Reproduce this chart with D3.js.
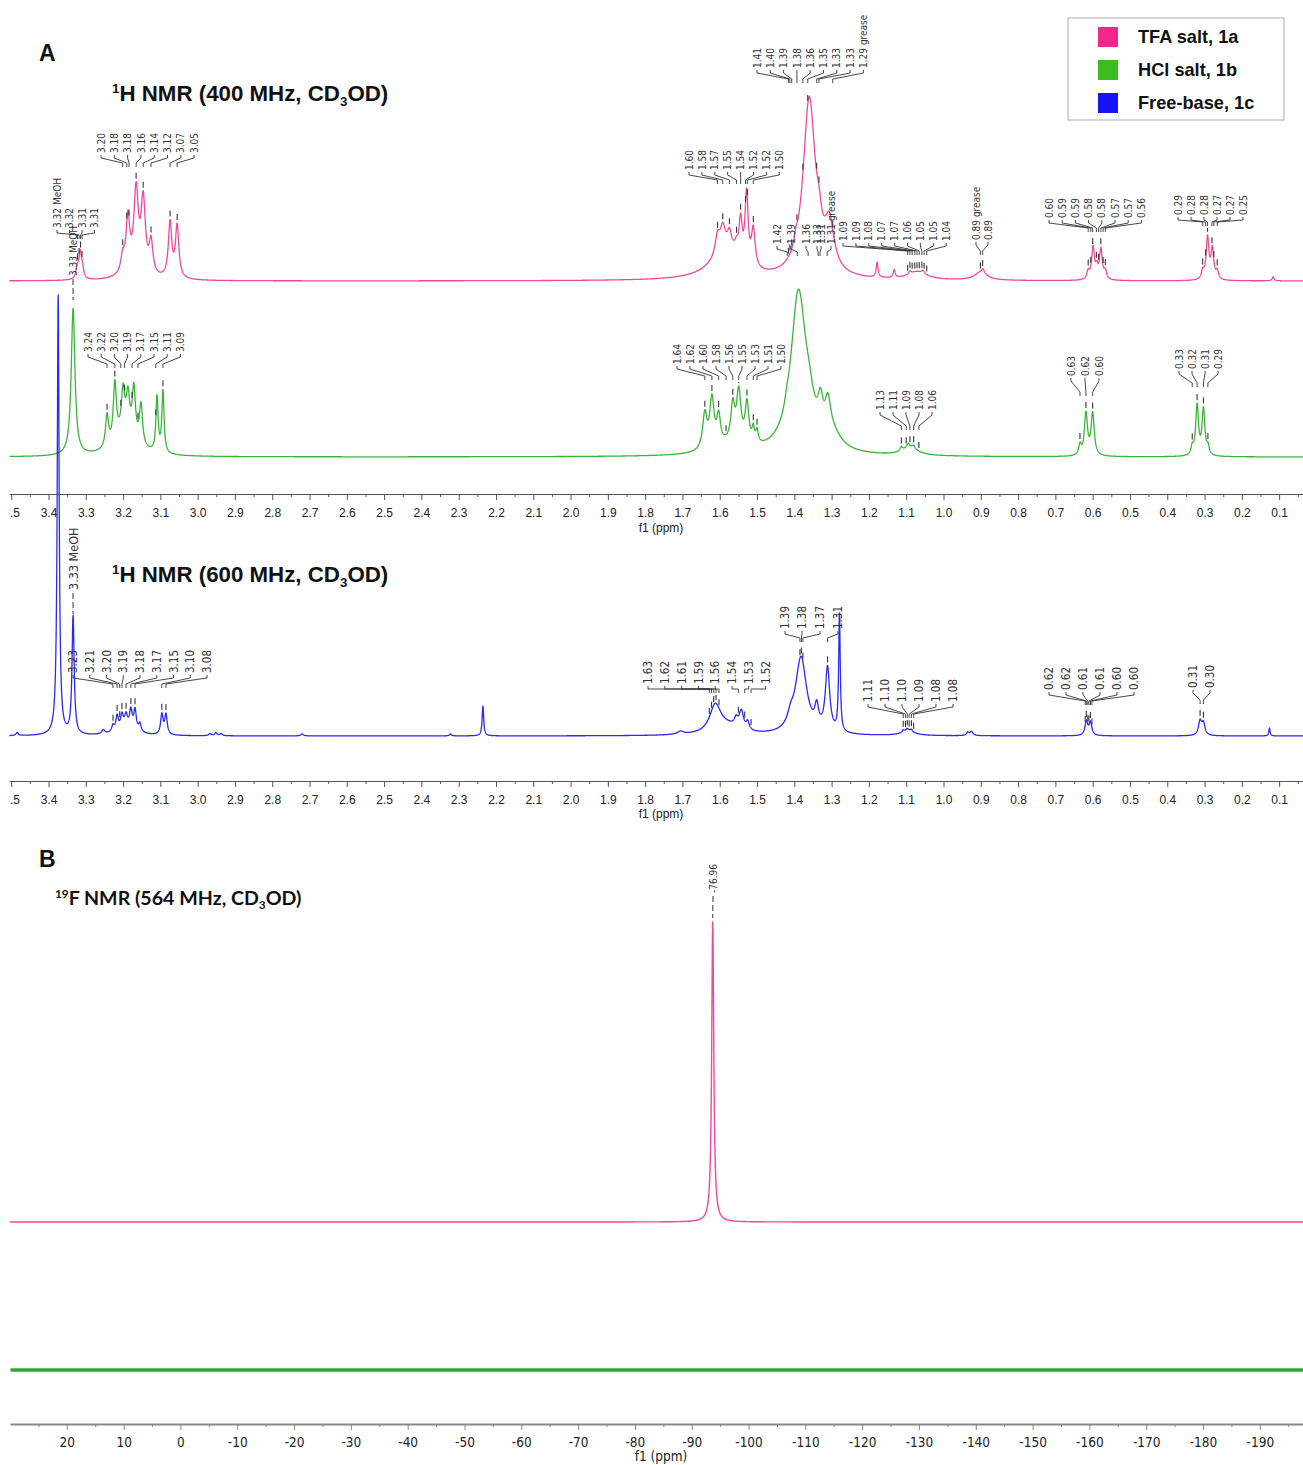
<!DOCTYPE html>
<html>
<head>
<meta charset="utf-8">
<script src="https://cdn.jsdelivr.net/npm/d3@7"></script>
<style>
  body { margin: 0; background: #fff; }
  svg { display: block; }
</style>
</head>
<body>
<svg id="chart" width="1303" height="1465"></svg>
<script>
// NMR overlay: 1H spectra of the TFA / HCl salts and the free base, plus 19F

// ── data ────────────────────────────────────────
// peaks: [ppm, height, half width (ppm)]
const pinkPeaks = [
  [3.323, 10, 0.004], [3.315, 26, 0.0045], [3.309, 8, 0.004],
  [3.201, 16, 0.006], [3.187, 52, 0.006], [3.165, 78, 0.007], [3.146, 72, 0.007],
  [3.125, 32, 0.006], [3.172, 8, 0.03], [3.074, 55, 0.0055], [3.055, 52, 0.0055],
  [1.600, 10, 0.06], [1.575, 22, 0.035], [1.606, 20, 0.008], [1.592, 22, 0.008],
  [1.574, 14, 0.006], [1.555, 8, 0.005], [1.544, 38, 0.005], [1.528, 70, 0.005],
  [1.510, 38, 0.006],
  [1.396, 8, 0.006], [1.360, 178, 0.02], [1.334, 18, 0.008], [1.306, 45, 0.015],
  [1.178, 15, 0.003], [1.132, 8, 0.003], [1.070, 8, 0.03], [1.090, 3, 0.004], [1.055, 3, 0.004],
  [0.900, 8, 0.02], [0.894, 4, 0.004],
  [0.612, 8, 0.004], [0.599, 32, 0.0045], [0.589, 10, 0.004], [0.578, 30, 0.0045], [0.566, 8, 0.004],
  [0.305, 8, 0.004], [0.292, 42, 0.0045], [0.279, 30, 0.0045], [0.266, 8, 0.004],
  [0.116, 4, 0.003]
];

const greenPeaks = [
  [3.334, 147, 0.006],
  [3.243, 32, 0.005], [3.222, 58, 0.005], [3.200, 38, 0.005], [3.187, 32, 0.005],
  [3.171, 48, 0.005], [3.152, 40, 0.005], [3.192, 28, 0.03],
  [3.109, 55, 0.0035], [3.093, 62, 0.0035],
  [1.570, 10, 0.05], [1.640, 35, 0.007], [1.621, 48, 0.007], [1.603, 28, 0.006],
  [1.565, 35, 0.006], [1.549, 50, 0.007], [1.527, 40, 0.006], [1.510, 14, 0.004], [1.500, 12, 0.004],
  [1.420, 5, 0.005], [1.389, 160, 0.025], [1.360, 20, 0.015], [1.330, 28, 0.008],
  [1.310, 30, 0.009], [1.300, 15, 0.03],
  [1.090, 8, 0.025], [1.113, 4, 0.004], [1.095, 4, 0.004], [1.080, 3, 0.004],
  [0.634, 10, 0.004], [0.618, 42, 0.005], [0.600, 42, 0.005],
  [0.333, 8, 0.004], [0.320, 50, 0.0045], [0.303, 46, 0.0045], [0.291, 8, 0.004]
];

const bluePeaks = [
  [3.484, 3, 0.004], [3.374, 440, 0.003], [3.334, 118, 0.0035], [3.253, 4, 0.005],
  [3.192, 10, 0.025], [3.227, 6, 0.004], [3.216, 14, 0.004], [3.203, 12, 0.004],
  [3.192, 10, 0.004], [3.179, 17, 0.004], [3.168, 20, 0.004], [3.155, 8, 0.004],
  [3.096, 20, 0.004], [3.085, 20, 0.004],
  [2.967, 2, 0.004], [2.951, 3, 0.004], [2.937, 2, 0.004], [2.720, 2, 0.004],
  [2.322, 2, 0.003], [2.235, 30, 0.0025],
  [1.705, 3, 0.01], [1.580, 8, 0.04], [1.612, 27, 0.018], [1.556, 8, 0.006],
  [1.542, 18, 0.007], [1.525, 8, 0.005],
  [1.410, 10, 0.01], [1.382, 77, 0.018], [1.340, 20, 0.006], [1.311, 64, 0.007], [1.279, 118, 0.0025],
  [1.095, 5, 0.02], [1.108, 2, 0.003], [1.097, 2, 0.003], [1.086, 2, 0.003],
  [0.935, 3, 0.004], [0.925, 4, 0.005],
  [0.617, 14, 0.0045], [0.606, 13, 0.0045],
  [0.312, 14, 0.005], [0.303, 12, 0.005],
  [0.126, 8, 0.002]
];

const fluorinePinkPeaks = [[-93.7, 300, 0.22]];
const fluorineGreenPeaks = [];

// peak labels (text and the ppm each leader points at)
const pinkLabelText = [
  ["3.32 MeOH", "3.32", "3.31", "3.31"],
  ["3.20", "3.18", "3.18", "3.16", "3.14", "3.12", "3.07", "3.05"],
  ["1.60", "1.58", "1.57", "1.55", "1.54", "1.52", "1.52", "1.50"],
  ["1.41", "1.40", "1.39", "1.38", "1.36", "1.35", "1.33", "1.33", "1.29 grease"],
  ["1.42", "1.39", "1.36", "1.33", "1.31", "1.31 grease"],
  ["1.09", "1.09", "1.08", "1.07", "1.07", "1.06", "1.05", "1.05", "1.04"],
  ["0.89 grease", "0.89"],
  ["0.60", "0.59", "0.59", "0.58", "0.58", "0.57", "0.57", "0.56"],
  ["0.29", "0.28", "0.28", "0.27", "0.27", "0.25"]
];
const pinkLabelPpm = [
  [3.322, 3.318, 3.314, 3.310],
  [3.201, 3.190, 3.184, 3.165, 3.146, 3.125, 3.074, 3.055],
  [1.606, 1.592, 1.574, 1.555, 1.544, 1.531, 1.526, 1.510],
  [1.416, 1.412, 1.407, 1.393, 1.377, 1.364, 1.340, 1.334, 1.297],
  [1.419, 1.392, 1.363, 1.336, 1.331, 1.312],
  [1.096, 1.090, 1.084, 1.077, 1.071, 1.065, 1.058, 1.052, 1.045],
  [0.901, 0.895],
  [0.612, 0.605, 0.600, 0.590, 0.584, 0.578, 0.572, 0.566],
  [0.305, 0.297, 0.292, 0.280, 0.275, 0.266]
];

const greenLabelText = [
  ["3.33 MeOH"],
  ["3.24", "3.22", "3.20", "3.19", "3.17", "3.15", "3.11", "3.09"],
  ["1.64", "1.62", "1.60", "1.58", "1.56", "1.55", "1.53", "1.51", "1.50"],
  ["1.13", "1.11", "1.09", "1.08", "1.06"],
  ["0.63", "0.62", "0.60"],
  ["0.33", "0.32", "0.31", "0.29"]
];
const greenLabelPpm = [
  [3.334],
  [3.243, 3.222, 3.206, 3.196, 3.176, 3.160, 3.112, 3.093],
  [1.640, 1.621, 1.603, 1.583, 1.565, 1.549, 1.527, 1.510, 1.500],
  [1.113, 1.100, 1.090, 1.080, 1.066],
  [0.634, 0.618, 0.600],
  [0.333, 0.320, 0.303, 0.291]
];

const blueLabelText = [
  ["3.33 MeOH"],
  ["3.23", "3.21", "3.20", "3.19", "3.18", "3.17", "3.15", "3.10", "3.08"],
  ["1.63", "1.62", "1.61", "1.59", "1.56", "1.54", "1.53", "1.52"],
  ["1.39", "1.38", "1.37", "1.31"],
  ["1.11", "1.10", "1.10", "1.09", "1.08", "1.08"],
  ["0.62", "0.62", "0.61", "0.61", "0.60", "0.60"],
  ["0.31", "0.30"]
];
const blueLabelPpm = [
  [3.334],
  [3.227, 3.216, 3.209, 3.203, 3.192, 3.179, 3.168, 3.096, 3.085],
  [1.628, 1.622, 1.616, 1.610, 1.602, 1.550, 1.533, 1.516],
  [1.385, 1.381, 1.377, 1.311],
  [1.108, 1.102, 1.097, 1.092, 1.086, 1.080],
  [0.620, 0.617, 0.613, 0.610, 0.606, 0.602],
  [0.312, 0.303]
];

const fluorineLabelText = [["-76.96"]];
const fluorineLabelPpm = [[-93.7]];

// axes
const hTicks = [3.5, 3.4, 3.3, 3.2, 3.1, 3.0, 2.9, 2.8, 2.7, 2.6, 2.5, 2.4, 2.3, 2.2, 2.1, 2.0,
  1.9, 1.8, 1.7, 1.6, 1.5, 1.4, 1.3, 1.2, 1.1, 1.0, 0.9, 0.8, 0.7, 0.6, 0.5, 0.4, 0.3, 0.2, 0.1];
const fTicks = [20, 10, 0, -10, -20, -30, -40, -50, -60, -70, -80, -90, -100, -110, -120,
  -130, -140, -150, -160, -170, -180, -190];

const legendNames = ["TFA salt, 1a", "HCl salt, 1b", "Free-base, 1c"];
const legendColors = ["#f5258c", "#3cbc1e", "#1414f5"];

// ── setup ───────────────────────────────────────
const svg = d3.select("#chart");
svg.append("rect").attr("width", 1303).attr("height", 1465).attr("fill", "#fff");
svg.append("defs").append("clipPath").attr("id", "crop")
  .append("rect").attr("x", 9.5).attr("y", 0).attr("width", 1300).attr("height", 1465);
const g = svg.append("g").attr("clip-path", "url(#crop)");

const xH = d3.scaleLinear().domain([3.530, 0.036]).range([0, 1303]);
const xF = d3.scaleLinear().domain([30, -197.6]).range([10, 1303]);

const lineCol = { pink: "#ee4a9c", green: "#3cb43c", blue: "#2a2af0" };

function intensity(peaks, ppm) {
  let s = 0;
  for (const [p, h, w] of peaks) {
    const d = (ppm - p) / w;
    s += h / (1 + d * d);
  }
  return s;
}

function makeSpec(peaks, x, base, color, step) {
  const y = d3.scaleLinear().domain([0, 100]).range([base, base - 100]);
  const [a, b] = x.domain();
  const pts = d3.range(Math.min(a, b), Math.max(a, b), step).map(p => [p, intensity(peaks, p)]);
  return { peaks, x, y, color, pts };
}

const specs = {
  pink: makeSpec(pinkPeaks, xH, 281, lineCol.pink, 0.0004),
  green: makeSpec(greenPeaks, xH, 457, lineCol.green, 0.0004),
  blue: makeSpec(bluePeaks, xH, 736, lineCol.blue, 0.0004),
  fPink: makeSpec(fluorinePinkPeaks, xF, 1222, lineCol.pink, 0.02),
  fGreen: makeSpec(fluorineGreenPeaks, xF, 1370, "#36a336", 0.5)
};

// ── axes ────────────────────────────────────────
function drawAxis(y, scale, majors, minors, fmt, font, fsize, pad, titleY, col, width) {
  const ax = g.append("g").attr("transform", `translate(0,${y})`);
  ax.call(d3.axisBottom(scale).tickValues(majors).tickFormat(fmt)
    .tickSize(6).tickSizeOuter(0).tickPadding(pad));
  ax.append("g")
    .call(d3.axisBottom(scale).tickValues(minors).tickFormat("").tickSize(3).tickSizeOuter(0))
    .select(".domain").remove();
  ax.attr("font-family", font).attr("font-size", fsize);
  ax.selectAll("text").attr("fill", "#222");
  ax.selectAll(".domain").attr("stroke", col).attr("stroke-width", width);
  ax.selectAll("line").attr("stroke", col).attr("stroke-width", 1);
  g.append("text").attr("x", 661).attr("y", titleY).attr("text-anchor", "middle")
    .attr("font-family", font).attr("font-size", fsize).attr("fill", "#222")
    .text("f1 (ppm)");
}

const hMinor = hTicks.map(v => v - 0.05).filter(v => v > 0.03);
const fMinor = fTicks.map(v => v + 5).concat([-195]);

const hFont = "'Liberation Sans', Arial, sans-serif";
drawAxis(494, xH, hTicks, hMinor, d3.format(".1f"), hFont, 12, 8, 532, "#555", 1.2);
drawAxis(781, xH, hTicks, hMinor, d3.format(".1f"), hFont, 12, 8, 818, "#555", 1.2);
drawAxis(1424, xF, fTicks, fMinor, d => String(d), "'Liberation Sans Narrow', 'DejaVu Sans Condensed', sans-serif", 13.5, 7, 1461, "#888", 2);

// ── spectra ─────────────────────────────────────
function drawSpec(s, w) {
  const line = d3.line().x(d => s.x(d[0])).y(d => s.y(d[1]));
  g.append("path").datum(s.pts)
    .attr("d", line)
    .attr("fill", "none")
    .attr("stroke", s.color)
    .attr("stroke-width", w)
    .attr("stroke-linejoin", "round");
}
drawSpec(specs.pink, 1.3);
drawSpec(specs.green, 1.3);
drawSpec(specs.blue, 1.3);
drawSpec(specs.fPink, 1.4);
drawSpec(specs.fGreen, 3.5);

// ── peak labels ─────────────────────────────────
const labFont = "'DejaVu Sans Condensed', 'DejaVu Sans', sans-serif";

function drawLabels(s, texts, ppms, layout) {
  texts.forEach((grp, gi) => {
    const L = layout[gi];
    const fs = L.fs || 10;
    grp.forEach((t, i) => {
      const lx = L.xs ? L.xs[i] : L.x0 + i * L.dx;
      const ppm = ppms[gi][i];
      const px = s.x(ppm);
      const cy = s.y(intensity(s.peaks, ppm));
      g.append("text")
        .attr("transform", `translate(${lx},${L.yb}) rotate(-90)`)
        .attr("dy", "0.36em")
        .attr("font-family", labFont)
        .attr("font-size", fs)
        .attr("fill", "#333")
        .text(t);
      if (L.dashed) {
        g.append("line")
          .attr("x1", lx).attr("x2", px)
          .attr("y1", L.yb + 3).attr("y2", L.yb + L.drop)
          .attr("stroke", "#333").attr("stroke-width", 1)
          .attr("stroke-dasharray", "6,3");
        return;
      }
      const y0 = L.yb + 2, y1 = L.yb + 5, y2 = L.yb + L.drop - 4, y3 = L.yb + L.drop;
      g.append("path")
        .attr("d", `M${lx},${y0}V${y1}L${px},${y2}V${y3}`)
        .attr("fill", "none").attr("stroke", "#333").attr("stroke-width", 0.9);
      if (cy - 3 > y3 + 1) {
        g.append("line")
          .attr("x1", px).attr("x2", px)
          .attr("y1", Math.max(cy - 9, y3 + 2)).attr("y2", cy - 3)
          .attr("stroke", "#333").attr("stroke-width", 1.1);
      }
    });
  });
}

drawLabels(specs.pink, pinkLabelText, pinkLabelPpm, [
  { x0: 57, dx: 12.5, yb: 228, drop: 11 },
  { x0: 101, dx: 13.3, yb: 153, drop: 14 },
  { x0: 689, dx: 12.9, yb: 170, drop: 14 },
  { x0: 757, dx: 13.3, yb: 68, drop: 15 },
  { xs: [777, 791, 806, 817, 821, 831], yb: 244, drop: 12 },
  { x0: 843, dx: 12.9, yb: 241, drop: 14 },
  { xs: [976, 988], yb: 240, drop: 15 },
  { x0: 1049, dx: 13.2, yb: 218, drop: 14 },
  { x0: 1178, dx: 13, yb: 215, drop: 11 }
]);

drawLabels(specs.green, greenLabelText, greenLabelPpm, [
  { xs: [73], yb: 276, drop: 24, dashed: true },
  { x0: 88, dx: 13.2, yb: 352, drop: 16 },
  { x0: 677, dx: 13, yb: 364, drop: 16 },
  { x0: 880, dx: 13, yb: 410, drop: 20 },
  { xs: [1071, 1085, 1099], yb: 376, drop: 20 },
  { x0: 1179, dx: 13, yb: 369, drop: 18 }
]);

drawLabels(specs.blue, blueLabelText, blueLabelPpm, [
  { xs: [73], yb: 590, drop: 24, dashed: true, fs: 12.5 },
  { x0: 73, dx: 16.75, yb: 673, drop: 15, fs: 11.5 },
  { x0: 648, dx: 16.8, yb: 684, drop: 9, fs: 11.5 },
  { xs: [785, 802, 820, 838], yb: 629, drop: 13, fs: 11.5 },
  { x0: 868, dx: 17, yb: 702, drop: 16, fs: 11.5 },
  { x0: 1049, dx: 17, yb: 690, drop: 15, fs: 11.5 },
  { xs: [1193, 1210], yb: 688, drop: 16, fs: 11.5 }
]);

drawLabels(specs.fPink, fluorineLabelText, fluorineLabelPpm, [
  { xs: [713], yb: 893, drop: 25, dashed: true }
]);

// ── titles ──────────────────────────────────────
const boldFont = "'Liberation Sans', Arial, sans-serif";

function panelLetter(x, y, t) {
  g.append("text").attr("x", x).attr("y", y)
    .attr("font-family", boldFont).attr("font-weight", "bold").attr("font-size", 23)
    .attr("fill", "#111").text(t);
}
panelLetter(39, 61, "A");
panelLetter(39, 867, "B");

function nmrTitle(x, y, iso, rest, font, fs) {
  const t = g.append("text").attr("x", x).attr("y", y)
    .attr("font-family", font).attr("font-weight", "bold").attr("font-size", fs).attr("fill", "#111");
  t.append("tspan").attr("font-size", fs * 0.6).attr("dy", -fs * 0.38).text(iso);
  t.append("tspan").attr("dy", fs * 0.38).text(rest);
  t.append("tspan").attr("font-size", fs * 0.6).attr("dy", fs * 0.22).text("3");
  t.append("tspan").attr("dy", -fs * 0.22).text("OD)");
}
nmrTitle(112, 101, "1", "H NMR (400 MHz, CD", boldFont, 22.3);
nmrTitle(112, 582, "1", "H NMR (600 MHz, CD", boldFont, 22.3);
nmrTitle(55, 905, "19", "F NMR (564 MHz, CD", "Lato, 'Open Sans', sans-serif", 19.6);

// ── legend ──────────────────────────────────────
const leg = g.append("g").attr("transform", "translate(1068,18)");
leg.append("rect").attr("width", 216).attr("height", 102)
  .attr("fill", "#fff").attr("stroke", "#aaa").attr("stroke-width", 1);
legendNames.forEach((name, i) => {
  leg.append("rect").attr("x", 30).attr("y", 9 + i * 33).attr("width", 20).attr("height", 20)
    .attr("fill", legendColors[i]);
  leg.append("text").attr("x", 70).attr("y", 19 + i * 33).attr("dy", "0.35em")
    .attr("font-family", boldFont).attr("font-weight", "bold").attr("font-size", 18.2)
    .attr("fill", "#111").text(name);
});
</script>
</body>
</html>
